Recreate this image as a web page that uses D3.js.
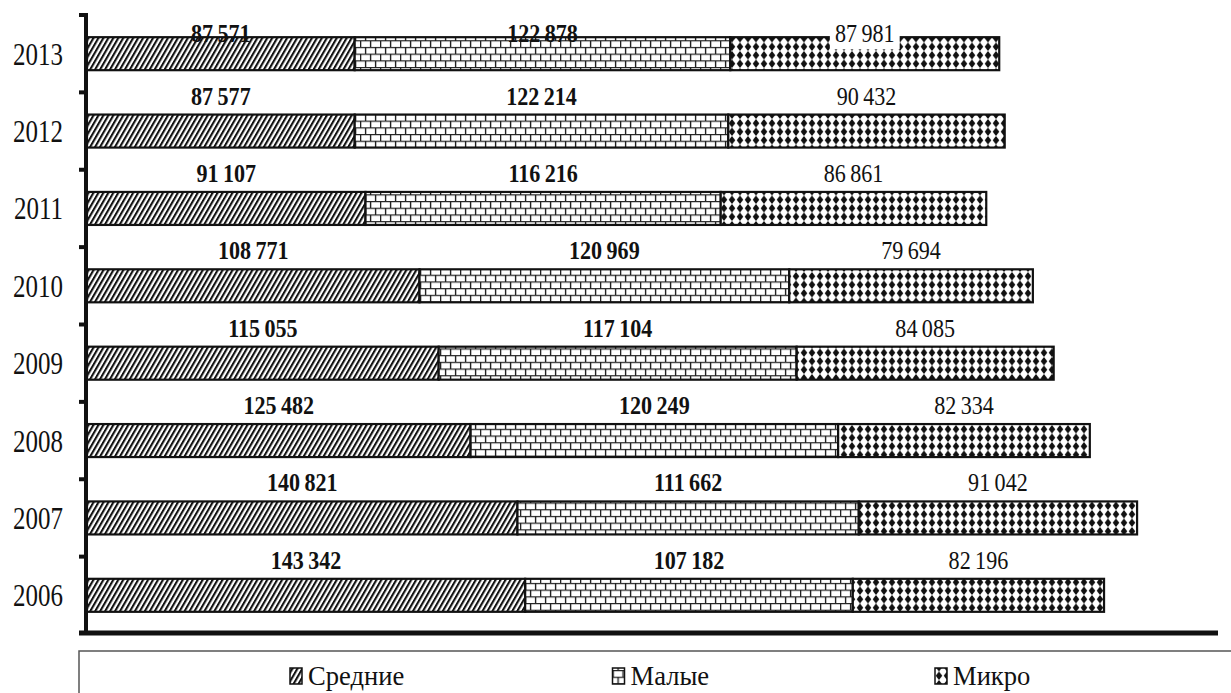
<!DOCTYPE html>
<html>
<head>
<meta charset="utf-8">
<script src="https://cdn.jsdelivr.net/npm/d3@7/dist/d3.min.js"></script>
<style>
body { margin: 0; background: #fff; }
text { font-family: "Liberation Serif", "Times New Roman", serif; fill: #111; }
</style>
</head>
<body>
<div id="chart-area"></div>
<script>
// data (2013 on top, as in the picture)
var years = ["2013", "2012", "2011", "2010", "2009", "2008", "2007", "2006"];
var srednie = [87571, 87577, 91107, 108771, 115055, 125482, 140821, 143342];
var malye = [122878, 122214, 116216, 120969, 117104, 120249, 111662, 107182];
var mikro = [87981, 90432, 86861, 79694, 84085, 82334, 91042, 82196];
var seriesNames = ["Средние", "Малые", "Микро"];
var seriesKeys = ["srednie", "malye", "mikro"];
var patternIds = ["hatch", "brick", "diamond"];

var W = 1231, H = 693;
var margin = { left: 87, right: 13, top: 15, bottom: 59 };

var rows = years.map(function (y, i) {
    return { year: y, srednie: srednie[i], malye: malye[i], mikro: mikro[i] };
});
var stacked = d3.stack().keys(seriesKeys)(rows);

var fmt = d3.formatLocale({ decimal: ",", thousands: "\u2009", grouping: [3], currency: ["", ""] }).format(",d");

var svg = d3.select("#chart-area").append("svg")
    .attr("width", W)
    .attr("height", H);

// patterns
var defs = svg.append("defs");
var hatch = defs.append("pattern")
    .attr("id", "hatch")
    .attr("patternUnits", "userSpaceOnUse")
    .attr("width", 4.3).attr("height", 10)
    .attr("patternTransform", "rotate(30)");
hatch.append("rect").attr("width", 4.3).attr("height", 10).attr("fill", "#fff");
hatch.append("rect").attr("width", 2.1).attr("height", 10).attr("fill", "#111");

var brick = defs.append("pattern")
    .attr("id", "brick")
    .attr("patternUnits", "userSpaceOnUse")
    .attr("width", 20).attr("height", 13.4);
brick.append("rect").attr("width", 20).attr("height", 13.4).attr("fill", "#fff");
brick.append("path")
    .attr("d", "M0,0.6H20M0,7.3H20M0.6,0V6.7M10.6,0V6.7M5.6,6.7V13.4M15.6,6.7V13.4")
    .attr("stroke", "#222").attr("stroke-width", 1.4).attr("fill", "none");

var diamond = defs.append("pattern")
    .attr("id", "diamond")
    .attr("patternUnits", "userSpaceOnUse")
    .attr("width", 8).attr("height", 8.5);
diamond.append("rect").attr("width", 8).attr("height", 8.5).attr("fill", "#fff");
diamond.append("path")
    .attr("d", "M4,0L7.3,4.25L4,8.5L0.7,4.25Z")
    .attr("fill", "#111");

var width = W - margin.left - margin.right;

var x = d3.scaleLinear()
    .domain([0, 370000])
    .range([margin.left, margin.left + width]);
var yBand = d3.scaleBand()
    .domain(years)
    .range([margin.top, margin.top + 619]);
var barH = 33;
function barTop(year) {
    return yBand(year) + (yBand.bandwidth() - barH) / 2;
}

// bars
var layers = svg.append("g").selectAll("g")
    .data(stacked)
    .enter().append("g")
    .attr("fill", function (d, i) { return "url(#" + patternIds[i] + ")"; });
layers.selectAll("rect")
    .data(function (d) { return d; })
    .enter().append("rect")
    .attr("x", function (d) { return x(d[0]); })
    .attr("y", function (d) { return barTop(d.data.year); })
    .attr("width", function (d) { return x(d[1]) - x(d[0]); })
    .attr("height", barH)
    .attr("stroke", "#111")
    .attr("stroke-width", 2.2);

// value labels
var labelG = svg.append("g");
stacked.forEach(function (layer, si) {
    layer.forEach(function (d) {
        var cx = (x(d[0]) + x(d[1])) / 2;
        var cy = Math.max(barTop(d.data.year) - 19, 33);
        var g = labelG.append("g")
            .attr("transform", "translate(" + cx + "," + (cy + 9) + ") scale(0.85,1)");
        var bg = g.append("rect").attr("fill", "#fff");
        var t = g.append("text")
            .attr("text-anchor", "middle")
            .attr("font-size", "26px")
            .attr("font-weight", si < 2 ? "bold" : "normal")
            .text(fmt(d.data[seriesKeys[si]]));
        if (si === 2) {
            var b = t.node().getBBox();
            bg.attr("x", b.x - 6).attr("y", b.y + 2)
                .attr("width", b.width + 12).attr("height", b.height);
        } else {
            bg.remove();
        }
    });
});

// year labels
svg.append("g").selectAll("text")
    .data(years)
    .enter().append("text")
    .attr("transform", function (d) {
        return "translate(63," + (yBand(d) + yBand.bandwidth() / 2 + 11) + ") scale(0.78,1)";
    })
    .attr("text-anchor", "end")
    .attr("font-size", "32px")
    .text(function (d) { return d; });

// axes
var yTicks = years.map(function (d) { return yBand(d); });
svg.append("g").selectAll("line")
    .data(yTicks)
    .enter().append("line")
    .attr("x1", 79).attr("x2", 88)
    .attr("y1", function (d) { return d; })
    .attr("y2", function (d) { return d; })
    .attr("stroke", "#111").attr("stroke-width", 4);
svg.append("line")
    .attr("x1", x(0) - 1).attr("x2", x(0) - 1)
    .attr("y1", 13).attr("y2", 634)
    .attr("stroke", "#111").attr("stroke-width", 4);
svg.append("line")
    .attr("x1", 79).attr("x2", x(370000))
    .attr("y1", 633).attr("y2", 633)
    .attr("stroke", "#111").attr("stroke-width", 5);

// legend
svg.append("rect")
    .attr("x", 79).attr("y", 651)
    .attr("width", 1200).attr("height", 100)
    .attr("fill", "none")
    .attr("stroke", "#555")
    .attr("stroke-width", 1.5);
var lx = d3.scalePoint().domain(seriesNames).range([290, 935]);
var leg = svg.append("g").selectAll("g")
    .data(seriesNames)
    .enter().append("g")
    .attr("transform", function (d) { return "translate(" + lx(d) + ",0)"; });
leg.append("rect")
    .attr("x", 0).attr("y", 668)
    .attr("width", 12).attr("height", 16)
    .attr("fill", function (d, i) { return "url(#" + patternIds[i] + ")"; })
    .attr("stroke", "#111").attr("stroke-width", 1.5);
leg.append("text")
    .attr("transform", "translate(18,685) scale(0.95,1)")
    .attr("font-size", "28px")
    .text(function (d) { return d; });
</script>
</body>
</html>
